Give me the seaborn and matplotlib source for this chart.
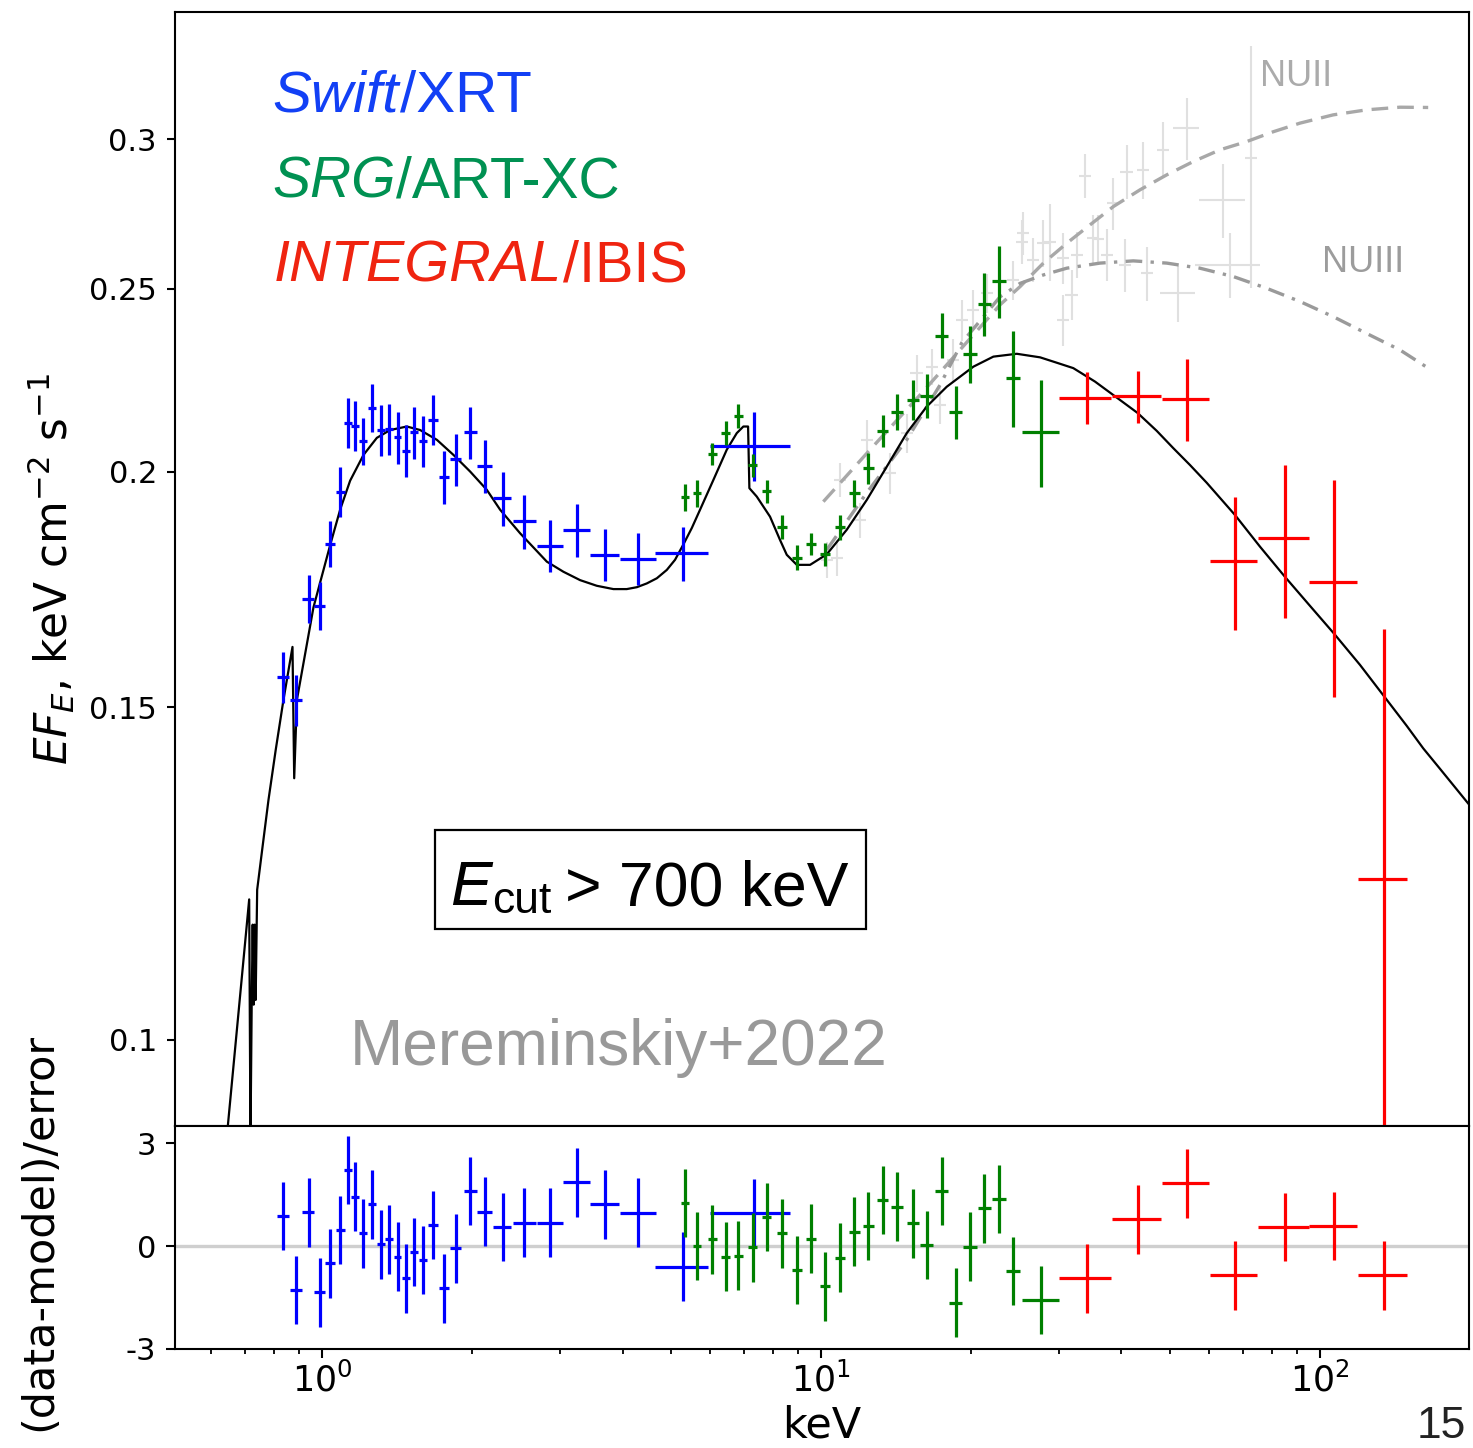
import matplotlib
matplotlib.use("Agg")
import matplotlib.pyplot as plt
from matplotlib.patches import Rectangle
from matplotlib.ticker import (FixedLocator, FixedFormatter, NullLocator,
                               LogLocator, NullFormatter, LogFormatterSciNotation)
import numpy as np
import pandas as pd
import seaborn as sns

# ---------------- Swift/XRT ----------------
xrt_E = [0.836, 0.886, 0.939, 0.988, 1.039, 1.087, 1.126, 1.165, 1.210, 1.261,
         1.311, 1.362, 1.416, 1.472, 1.531, 1.591, 1.671, 1.758, 1.853, 1.980,
         2.121, 2.300, 2.544, 2.863, 3.239, 3.694, 4.304, 5.297, 7.322]
xrt_dE = [0.023, 0.025, 0.026, 0.023, 0.024, 0.023, 0.021, 0.022, 0.022, 0.023,
          0.024, 0.025, 0.026, 0.027, 0.028, 0.029, 0.039, 0.041, 0.047, 0.059,
          0.073, 0.096, 0.135, 0.172, 0.202, 0.247, 0.358, 0.648, 1.335]
xrt_F = [0.1557, 0.1514, 0.1712, 0.1698, 0.1831, 0.1952, 0.2123, 0.2115, 0.2076, 0.2162,
         0.2104, 0.2107, 0.2085, 0.2052, 0.2098, 0.2076, 0.2130, 0.1986, 0.2030, 0.2098,
         0.2014, 0.1936, 0.1882, 0.1827, 0.1863, 0.1807, 0.1798, 0.1810, 0.2064]
xrt_dF = [0.0048, 0.0047, 0.0050, 0.0050, 0.0051, 0.0060, 0.0064, 0.0065, 0.0060, 0.0063,
          0.0065, 0.0066, 0.0066, 0.0065, 0.0066, 0.0065, 0.0065, 0.0064, 0.0064, 0.0066,
          0.0065, 0.0064, 0.0062, 0.0058, 0.0060, 0.0057, 0.0057, 0.0060, 0.0088]
xrt_res = [0.88, -1.28, 0.98, -1.35, -0.50, 0.47, 2.22, 1.44, 0.37, 1.22,
           0.05, 0.20, -0.31, -0.94, -0.17, -0.41, 0.61, -1.23, -0.07, 1.60,
           1.00, 0.56, 0.68, 0.68, 1.86, 1.22, 0.97, -0.60, 0.95]

# ---------------- SRG/ART-XC ----------------
art_E = [5.339, 5.650, 6.057, 6.442, 6.828, 7.296, 7.783, 8.343, 8.941, 9.563,
         10.19, 10.92, 11.65, 12.44, 13.29, 14.22, 15.27, 16.28, 17.45, 18.62,
         19.89, 21.25, 22.73, 24.29, 27.64]
art_dE = [0.099, 0.108, 0.119, 0.130, 0.142, 0.157, 0.172, 0.189, 0.208, 0.228,
          0.249, 0.274, 0.299, 0.327, 0.357, 0.390, 0.428, 0.466, 0.510, 0.556,
          0.606, 0.660, 0.719, 0.785, 2.39]
art_F = [0.1938, 0.1948, 0.2043, 0.2097, 0.2141, 0.2016, 0.1953, 0.1870, 0.1801, 0.1831,
         0.1808, 0.1869, 0.1948, 0.2008, 0.2102, 0.2152, 0.2183, 0.2194, 0.2361, 0.2150,
         0.2309, 0.2454, 0.2523, 0.2243, 0.2100]
art_dF = [0.0033, 0.0032, 0.0027, 0.0031, 0.0031, 0.0028, 0.0027, 0.0027, 0.0028, 0.0025,
          0.0026, 0.0028, 0.0032, 0.0038, 0.0041, 0.0047, 0.0052, 0.0060, 0.0065, 0.0069,
          0.0080, 0.0095, 0.0110, 0.0132, 0.0137]
art_res = [1.26, 0.00, 0.20, -0.31, -0.28, -0.04, 0.85, 0.37, -0.70, 0.22,
           -1.17, -0.34, 0.42, 0.58, 1.34, 1.15, 0.66, 0.03, 1.60, -1.65,
           -0.02, 1.10, 1.37, -0.73, -1.57]

# ---------------- INTEGRAL/IBIS ----------------
ibis_E = [34.08, 43.12, 54.07, 67.55, 85.1, 106.8, 134.4]
ibis_dE = [4.05, 4.86, 5.9, 7.3, 9.8, 11.8, 15.3]
ibis_F = [0.2189, 0.2192, 0.2185, 0.1794, 0.1844, 0.1749, 0.1217]
ibis_dF = [0.0070, 0.0070, 0.0108, 0.0145, 0.0171, 0.0230, 0.0433]
ibis_res = [-0.94, 0.78, 1.83, -0.85, 0.56, 0.58, -0.85]

# ---------------- NuSTAR (background, grey) ----------------
nu_E = [10.27, 10.75, 10.92, 11.97, 12.35, 13.75, 14.85, 15.55, 16.67, 17.32,
        18.41, 19.14, 20.20, 21.48, 24.29, 25.25, 25.43, 26.64, 27.90, 28.77,
        30.59, 30.59, 31.79, 32.54, 33.81, 35.13, 35.95, 37.37, 38.53, 40.66,
        40.98, 44.25, 44.95, 48.53, 52.00, 54.07, 63.99, 65.99, 72.62]
nu_dE = [0.29, 0.30, 0.31, 0.34, 0.35, 0.39, 0.42, 0.44, 0.47, 0.49,
         0.52, 0.54, 0.57, 0.60, 0.68, 0.71, 0.71, 0.75, 0.78, 0.81,
         0.86, 0.86, 0.89, 0.91, 0.95, 0.98, 1.00, 1.05, 1.08, 1.14,
         1.15, 1.24, 1.26, 1.36, 4.2, 3.24, 6.64, 9.9, 2.0]
nu_F = [0.1796, 0.1800, 0.1980, 0.1885, 0.2079, 0.1996, 0.2096, 0.2255, 0.2273, 0.2169,
        0.2292, 0.2406, 0.2436, 0.2486, 0.2526, 0.2647, 0.2675, 0.2589, 0.2642, 0.2647,
        0.2594, 0.2406, 0.2481, 0.2605, 0.2869, 0.2658, 0.2655, 0.2605, 0.2774, 0.2573,
        0.2883, 0.2889, 0.2547, 0.2961, 0.2486, 0.3040, 0.2785, 0.2573, 0.2931]
nu_dF = [0.004, 0.004, 0.004, 0.004, 0.005, 0.005, 0.005, 0.005, 0.005, 0.005,
         0.006, 0.006, 0.006, 0.006, 0.006, 0.007, 0.007, 0.007, 0.0075, 0.0125,
         0.008, 0.0075, 0.0075, 0.0073, 0.0077, 0.0078, 0.008, 0.0083, 0.0088, 0.0082,
         0.0095, 0.0099, 0.0084, 0.0101, 0.0085, 0.0115, 0.0126, 0.0102, 0.043]

# ---------------- best-fit model (Ecut > 700 keV) ----------------
model_E = [0.643, 0.714, 0.7183, 0.7223, 0.7256, 0.7290, 0.7323, 0.7357, 0.7408, 0.7581,
           0.7805, 0.8069, 0.8364, 0.8720, 0.8789, 0.8899, 0.9607, 1.039, 1.087, 1.1378,
           1.21, 1.287, 1.3686, 1.478, 1.5717, 1.6979, 1.8333, 1.9801, 2.138, 2.274,
           2.4935, 2.8203, 3.045, 3.289, 3.552, 3.835, 4.079, 4.273, 4.474, 4.686,
           4.907, 5.097, 5.297, 5.507, 5.72, 6.085,
           6.471, 6.777, 6.986, 7.14, 7.183, 7.432, 7.902, 8.275, 8.536, 8.941,
           9.506, 10.266, 11.258, 12.348, 13.541, 14.85, 16.284, 17.86, 20.2, 22.15,
           24.68, 27.48, 29.67, 32.03, 35.41, 39.14, 43.12, 47.07, 50.82, 54.90,
           59.29, 67.55, 75.83, 85.10, 95.49, 106.8, 120.3, 134.6, 149.2, 161.1,
           174.0, 201.6]
model_F = [0.0885, 0.1187, 0.0885, 0.1044, 0.1151, 0.1044, 0.1151, 0.1050, 0.1201, 0.1261,
           0.1340, 0.1424, 0.1514, 0.1615, 0.1376, 0.1514, 0.1695, 0.1831, 0.1910, 0.1978,
           0.2041, 0.2084, 0.2104, 0.2113, 0.2104, 0.2079, 0.2041, 0.2000, 0.1956, 0.1909,
           0.1855, 0.1792, 0.1770, 0.1752, 0.1740, 0.1733, 0.1733, 0.1737, 0.1745, 0.1756,
           0.1774, 0.1796, 0.1830, 0.1867, 0.1909, 0.1980,
           0.2054, 0.2096, 0.2113, 0.2113, 0.1960, 0.1940, 0.1893, 0.1840, 0.1807, 0.1785,
           0.1785, 0.1808, 0.1863, 0.1932, 0.2012, 0.2096, 0.2165, 0.2218, 0.2273, 0.2301,
           0.2309, 0.2299, 0.2284, 0.2269, 0.2232, 0.2189, 0.2148, 0.2102, 0.2058, 0.2016,
           0.1973, 0.1897, 0.1825, 0.1759, 0.1698, 0.1641, 0.1580, 0.1520, 0.1467, 0.1427,
           0.1392, 0.1327]

# NuSTAR model curves from the earlier observations
nuii_E = [10.106, 12.537, 15.79, 18.99, 22.84, 25.05, 27.90, 31.07, 34.60, 38.53,
          43.58, 49.30, 55.73, 63.03, 71.31, 80.60, 91.19, 106.3, 124.0, 144.6, 164.8]
nuii_F = [0.1928, 0.2054, 0.2196, 0.2320, 0.2451, 0.2506, 0.2579, 0.2642, 0.2702, 0.2763,
          0.2820, 0.2872, 0.2919, 0.2961, 0.2991, 0.3027, 0.3059, 0.3090, 0.3109, 0.3119, 0.3118]
nuiii_E = [10.266, 12.348, 14.85, 17.32, 19.14, 22.84, 25.05, 27.90, 31.07, 36.24,
           42.26, 49.30, 57.47, 67.05, 78.19, 91.19, 106.3, 124.0, 144.6, 164.8]
nuiii_F = [0.1818, 0.1949, 0.2079, 0.2223, 0.2340, 0.2475, 0.2516, 0.2542, 0.2563, 0.2579,
           0.2586, 0.2579, 0.2563, 0.2537, 0.2501, 0.2461, 0.2416, 0.2367, 0.2320, 0.2269]

y_ticks = [0.1, 0.15, 0.2, 0.25, 0.3]
y_ticklabels = ["0.1", "0.15", "0.2", "0.25", "0.3"]
res_ticks = [-3, 0, 3]
res_ticklabels = ["-3", "0", "3"]

# ---------------- figure ----------------
sns.set_theme(style="ticks")
plt.rcParams["font.family"] = ["DejaVu Sans"]
plt.rcParams["axes.linewidth"] = 1.5
plt.rcParams["axes.edgecolor"] = "black"

FW, FH = 1473, 1448
fig = plt.figure(figsize=(FW / 100, FH / 100), dpi=100)
fig.patch.set_facecolor("white")

left, right = 175 / FW, 1468.5 / FW
top_hi, mid, bot = 1 - 12 / FH, 1 - 1126 / FH, 1 - 1349 / FH
ax = fig.add_axes([left, mid, right - left, top_hi - mid])
axr = fig.add_axes([left, bot, right - left, mid - bot], sharex=ax)
for a in (ax, axr):
    a.set_facecolor("white")
    for s in a.spines.values():
        s.set_visible(True)
        s.set_color("black")
        s.set_linewidth(1.5)

C_XRT, C_ART, C_IBIS, C_NU = "#0000ff", "#008000", "#ff0000", "#e0e0e0"
EW = 2.3

# grey NuSTAR points
ax.errorbar(nu_E, nu_F, xerr=nu_dE, yerr=nu_dF, fmt="none", ecolor=C_NU,
            elinewidth=1.5, capsize=0, zorder=1)

# NuSTAR model curves
nu_df = pd.DataFrame({"E": nuii_E, "F": nuii_F})
sns.lineplot(data=nu_df, x="E", y="F", ax=ax, sort=False, estimator=None,
             color="#a8a8a8", lw=2.4, linestyle=(0, (5, 2.7)), zorder=2)
nu3_df = pd.DataFrame({"E": nuiii_E, "F": nuiii_F})
sns.lineplot(data=nu3_df, x="E", y="F", ax=ax, sort=False, estimator=None,
             color="#9a9a9a", lw=2.4, linestyle=(0, (5, 2.5, 1, 2.5)), zorder=2)

# best-fit model
mdf = pd.DataFrame({"E": model_E, "F": model_F})
sns.lineplot(data=mdf, x="E", y="F", ax=ax, sort=False, estimator=None,
             color="black", lw=1.6, zorder=3)

# data
for E, dE, F, dF, c in [(xrt_E, xrt_dE, xrt_F, xrt_dF, C_XRT),
                        (art_E, art_dE, art_F, art_dF, C_ART),
                        (ibis_E, ibis_dE, ibis_F, ibis_dF, C_IBIS)]:
    ax.errorbar(E, F, xerr=dE, yerr=dF, fmt="none", ecolor=c,
                elinewidth=EW, capsize=0, zorder=4)

# residuals
axr.axhline(0, color="#cfcfcf", lw=2.4, zorder=1)
for E, dE, R, c in [(xrt_E, xrt_dE, xrt_res, C_XRT),
                    (art_E, art_dE, art_res, C_ART),
                    (ibis_E, ibis_dE, ibis_res, C_IBIS)]:
    axr.errorbar(E, R, xerr=dE, yerr=np.ones(len(R)), fmt="none", ecolor=c,
                 elinewidth=EW, capsize=0, zorder=4)

# ---------------- axes formatting ----------------
ax.set_xscale("log")
ax.set_yscale("log")
ax.set_xlim(0.507, 198.5)
ax.set_ylim(0.09004, 0.3503)
ax.yaxis.set_major_locator(FixedLocator(y_ticks))
ax.yaxis.set_major_formatter(FixedFormatter(y_ticklabels))
ax.yaxis.set_minor_locator(NullLocator())
ax.tick_params(axis="y", which="major", direction="out", length=6, width=1.5,
               labelsize=22, pad=7, colors="black")
ax.tick_params(axis="x", which="both", length=0, labelbottom=False)
ax.set_xlabel("")
ax.set_ylabel(r"$EF_E$, keV cm$^{-2}$ s$^{-1}$", fontsize=31.5, color="black")
ax.yaxis.set_label_coords(-0.076, 0.5)

axr.set_ylim(-3, 3.5)
axr.yaxis.set_major_locator(FixedLocator(res_ticks))
axr.yaxis.set_major_formatter(FixedFormatter(res_ticklabels))
axr.yaxis.set_minor_locator(NullLocator())
axr.xaxis.set_major_locator(LogLocator(base=10, numticks=10))
axr.xaxis.set_major_formatter(LogFormatterSciNotation())
axr.xaxis.set_minor_locator(LogLocator(base=10, subs=np.arange(2, 10), numticks=20))
axr.xaxis.set_minor_formatter(NullFormatter())
axr.tick_params(axis="both", which="major", direction="out", length=6.5, width=1.5,
                colors="black")
axr.tick_params(axis="x", which="major", pad=3, labelsize=25)
axr.tick_params(axis="y", which="major", pad=7, labelsize=22)
axr.tick_params(axis="x", which="minor", direction="out", length=3.8, width=1.3,
                colors="black")
axr.set_xlabel("")
axr.set_ylabel("(data-model)/error", fontsize=31, color="black")
axr.yaxis.set_label_coords(-0.089, 0.525)

# ---------------- annotations ----------------
fig.canvas.draw()
renderer = fig.canvas.get_renderer()
SANS = "Liberation Sans"


def fxy(x, y):
    return x / FW, 1 - y / FH


def chain(x, y, parts):
    """Write text pieces one after another on a common baseline (pixel coords)."""
    for txt, size, style, color, dy, gap in parts:
        x += gap
        t = fig.text(*fxy(x, y + dy), txt, fontsize=size, fontstyle=style,
                     color=color, family=SANS, ha="left", va="baseline")
        x = t.get_window_extent(renderer).x1


chain(272, 112, [("Swift", 42, "italic", "#1240f5", 0, 0),
                 ("/XRT", 42, "normal", "#1240f5", 0, 1)])
chain(272, 197, [("SRG", 41, "italic", "#009152", 0, 0),
                 ("/ART-XC", 41, "normal", "#009152", 0, 1)])
chain(274, 281, [("INTEGRAL", 41.5, "italic", "#ef2410", 0, 0),
                 ("/IBIS", 41.5, "normal", "#ef2410", 0, 1)])

# cut-off energy box
fig.patches.append(Rectangle(fxy(435, 929), (866 - 435) / FW, (929 - 830) / FH,
                             transform=fig.transFigure, fill=False,
                             edgecolor="black", lw=1.6, zorder=5))
chain(450, 905, [("E", 45, "italic", "black", 0, 0),
                 ("cut", 32, "normal", "black", 8, 0),
                 ("> 700 keV", 45, "normal", "black", 0, 14)])

fig.text(*fxy(350, 1065), "Mereminskiy+2022", fontsize=46, color="#999999",
         family=SANS, ha="left", va="baseline")
fig.text(*fxy(1260, 86), "NUII", fontsize=26, color="#ababab",
         family=SANS, ha="left", va="baseline")
fig.text(*fxy(1322, 272), "NUIII", fontsize=26, color="#9c9c9c",
         family=SANS, ha="left", va="baseline")
fig.text(*fxy(1466, 1447), "15", fontsize=32, color="#222222",
         family=SANS, ha="right", va="bottom")
fig.text(*fxy(822, 1447), "keV", fontsize=31, color="black",
         ha="center", va="bottom")

fig.savefig("out.png", dpi=100, facecolor="white")
